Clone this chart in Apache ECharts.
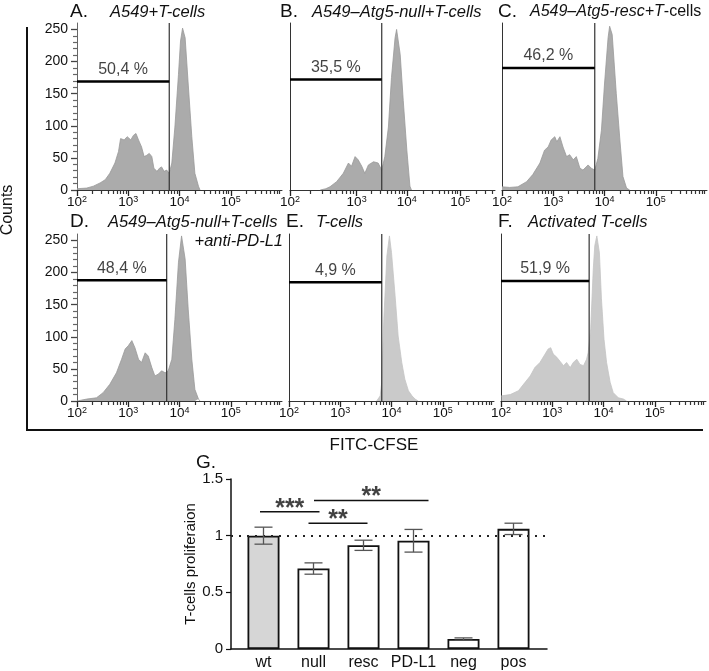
<!DOCTYPE html>
<html><head><meta charset="utf-8">
<script src="https://cdn.jsdelivr.net/npm/echarts@6/dist/echarts.min.js"></script>
<style>html,body{margin:0;padding:0;background:#fff}#c{width:709px;height:671px}</style>
</head><body><div id="c"></div>
<script>
// ---------- DATA ----------
// Histograms: [display position in decades from the 10^2 axis origin, counts]
const histA = [[0,2],[0.01,3],[0.19,3],[0.32,6],[0.45,11],[0.55,16],[0.64,26],[0.74,42],[0.81,60],[0.85,80],[0.92,78],[0.98,83],[1.05,78],[1.10,85],[1.15,88],[1.20,78],[1.26,67],[1.31,52],[1.36,54],[1.41,57],[1.46,52],[1.50,34],[1.56,29],[1.61,34],[1.65,36],[1.70,29],[1.75,31],[1.80,26],[1.85,42],[1.91,98],[1.98,180],[2.02,232],[2.06,252],[2.11,237],[2.17,165],[2.24,83],[2.30,26],[2.37,6],[2.40,0]];
const histB = [[0.59,0],[0.70,2],[0.78,5],[0.91,13],[1.04,26],[1.14,42],[1.20,37],[1.27,52],[1.33,47],[1.40,37],[1.46,26],[1.53,39],[1.63,44],[1.72,42],[1.79,31],[1.85,52],[1.92,98],[1.98,175],[2.05,237],[2.08,250],[2.15,211],[2.21,139],[2.28,62],[2.34,6],[2.37,0]];
const histC = [[0,5],[0.15,4],[0.31,5],[0.48,13],[0.60,24],[0.74,42],[0.83,62],[0.90,67],[0.96,78],[1.03,83],[1.07,75],[1.13,83],[1.19,67],[1.26,52],[1.32,55],[1.39,47],[1.45,52],[1.52,34],[1.58,31],[1.68,39],[1.74,34],[1.81,31],[1.87,49],[1.94,93],[2.00,165],[2.07,237],[2.10,255],[2.15,242],[2.23,150],[2.30,78],[2.36,21],[2.43,3],[2.49,0]];
const histD = [[0,0],[0.19,3],[0.38,5],[0.51,13],[0.64,26],[0.77,44],[0.87,65],[0.94,81],[1.00,86],[1.07,94],[1.13,83],[1.20,65],[1.26,60],[1.33,75],[1.39,70],[1.46,52],[1.52,39],[1.59,42],[1.65,47],[1.72,44],[1.78,47],[1.85,65],[1.91,127],[1.98,216],[2.04,257],[2.11,221],[2.17,143],[2.24,65],[2.30,18],[2.37,3],[2.40,0]];
const histE = [[1.71,0],[1.78,8],[1.81,29],[1.85,127],[1.91,226],[1.96,257],[2.00,231],[2.07,164],[2.13,101],[2.20,60],[2.26,34],[2.33,16],[2.40,8],[2.46,3],[2.52,0]];
const histF = [[0.01,8],[0.18,10],[0.34,16],[0.47,29],[0.57,39],[0.66,52],[0.76,60],[0.86,73],[0.92,81],[0.97,83],[1.02,73],[1.09,68],[1.15,62],[1.22,55],[1.28,60],[1.35,52],[1.41,60],[1.48,65],[1.54,57],[1.61,55],[1.67,65],[1.70,75],[1.75,112],[1.80,205],[1.83,242],[1.87,257],[1.92,231],[1.96,159],[2.01,96],[2.06,60],[2.13,29],[2.19,13],[2.29,5],[2.39,3],[2.45,0]];

// Gates: position of the marker, level of the horizontal bar, percentage text
const gateX = [1.80, 1.79, 1.81, 1.75, 1.81, 1.72];
const gateLevel = [169, 172, 190, 188, 185, 187];
const gateText = ['50,4 %', '35,5 %', '46,2 %', '48,4 %', '4,9 %', '51,9 %'];

// Axis tick labels
const decadeExp = [2, 3, 4, 5];
const decadePosStd = [0, 1, 2, 3];
const decadePosB = [0, 1.30, 2.28, 3.32];
const countTicks = [0, 50, 100, 150, 200, 250];

// Panel G
const groupNames = ['wt', 'null', 'resc', 'PD-L1', 'neg', 'pos'];
const groupMeans = [1.00, 0.71, 0.915, 0.955, 0.088, 1.06];
const groupErr = [0.075, 0.05, 0.045, 0.10, 0.01, 0.05];
const sigX1 = [-0.07, 0.90, 1.01];
const sigX2 = [1.12, 2.08, 3.30];
const sigY = [1.21, 1.11, 1.31];
const sigStars = ['***', '**', '**'];
const gTicks = [0, 0.5, 1, 1.5];

// ---------- LAYOUT / STYLE ----------
const FONT = "'Liberation Sans', Arial, Helvetica, sans-serif";
const X_MAX = 4, Y_MAX = 260;
const gridLeft = [77, 290, 502, 77, 289, 501];
const gridTop = [23, 23, 23, 234, 234, 234];
const GW = 205, GH = 167;
const fills = ['#ababab','#ababab','#ababab','#ababab','#cacaca','#cacaca'];
const edges = ['#999999','#999999','#999999','#999999','#c4c4c4','#c4c4c4'];
const hists = [histA, histB, histC, histD, histE, histF];

function minorTicks(majors) {
  const e = majors.slice();
  e.push(majors[majors.length - 1] + (majors[majors.length - 1] - majors[majors.length - 2]));
  const out = [];
  for (let i = 0; i < e.length - 1; i++) {
    for (let k = 2; k <= 9; k++) {
      const v = e[i] + (e[i + 1] - e[i]) * Math.log10(k);
      if (v <= X_MAX + 1e-9) out.push(+v.toFixed(4));
    }
  }
  return out;
}
const minorCounts = [];
for (let v = 10; v <= 250; v += 10) if (v % 50 !== 0) minorCounts.push(v);

const grids = [], xAxes = [], yAxes = [], series = [];
// grids 0..5 histograms, 6 = bar chart, 7..12 overlay grids for minor ticks
for (let i = 0; i < 6; i++) grids.push({left: gridLeft[i], top: gridTop[i], width: GW, height: GH, outerBoundsMode: 'none'});
grids.push({left: 231, top: 479, width: 316, height: 170, outerBoundsMode: 'none'});
for (let i = 0; i < 6; i++) grids.push({left: gridLeft[i], top: gridTop[i], width: GW, height: GH, outerBoundsMode: 'none'});

// x axes for histograms (0..5)
for (let i = 0; i < 6; i++) {
  const majors = i === 1 ? decadePosB : decadePosStd;
  xAxes.push({
    type: 'value', gridIndex: i, min: 0, max: X_MAX, position: 'bottom',
    splitLine: {show: false},
    axisLine: {show: true, onZero: false, lineStyle: {color: '#333', width: 1}},
    axisTick: {show: true, customValues: majors, length: 6, lineStyle: {color: '#222', width: 1.3}},
    axisLabel: {
      show: true, customValues: majors, margin: 5,
      formatter: function (v) {
        let idx = 0, best = 1e9;
        majors.forEach((m, j) => { if (Math.abs(m - v) < best) { best = Math.abs(m - v); idx = j; } });
        return '{b|10}{s|' + decadeExp[idx] + '}';
      },
      rich: {
        b: {fontSize: 13.5, fontFamily: FONT, color: '#111', lineHeight: 15},
        s: {fontSize: 9, fontFamily: FONT, color: '#111', verticalAlign: 'top', lineHeight: 9}
      }
    }
  });
}
// G x axis (6)
xAxes.push({
  type: 'value', gridIndex: 6, min: -0.65, max: 5.67, position: 'bottom',
  splitLine: {show: false},
  axisLine: {show: true, onZero: false, lineStyle: {color: '#111', width: 1.5}},
  axisTick: {show: false},
  axisLabel: {show: true, customValues: [0, 1, 2, 3, 4, 5], margin: 6,
    formatter: v => groupNames[Math.round(v)] || '', fontSize: 16, fontFamily: FONT, color: '#111'}
});
// overlay minor-tick x axes (7..12)
for (let i = 0; i < 6; i++) {
  const majors = i === 1 ? decadePosB : decadePosStd;
  xAxes.push({
    type: 'value', gridIndex: 7 + i, min: 0, max: X_MAX, position: 'bottom',
    splitLine: {show: false},
    axisLine: {show: true, onZero: false, lineStyle: {color: 'rgba(0,0,0,0)'}},
    axisTick: {show: true, customValues: minorTicks(majors), length: 4, lineStyle: {color: '#333', width: 1.2}},
    axisLabel: {show: false}
  });
}

// y axes for histograms (0..5)
for (let i = 0; i < 6; i++) {
  const labelled = (i === 0 || i === 3);
  yAxes.push({
    type: 'value', gridIndex: i, min: 0, max: Y_MAX, position: 'left',
    splitLine: {show: false},
    axisLine: {show: true, onZero: false, lineStyle: {color: labelled ? '#666' : '#333', width: 1}},
    axisTick: {show: labelled, customValues: countTicks, length: 6, lineStyle: {color: '#444', width: 1.3}},
    axisLabel: {show: labelled, customValues: countTicks, margin: 9, fontSize: 14, fontFamily: FONT, color: '#111'}
  });
}
// G y axis (6)
yAxes.push({
  type: 'value', gridIndex: 6, min: 0, max: 1.5, position: 'left',
  splitLine: {show: false},
  axisLine: {show: true, onZero: false, lineStyle: {color: '#111', width: 1.5}},
  axisTick: {show: true, customValues: gTicks, length: 5, lineStyle: {color: '#111', width: 1.2}},
  axisLabel: {show: true, customValues: gTicks, margin: 8, fontSize: 15, fontFamily: FONT, color: '#111'},
  name: 'T-cells proliferaion', nameLocation: 'middle', nameGap: 30,
  nameTextStyle: {fontSize: 15, fontFamily: FONT, color: '#111'}
});
// overlay minor-tick y axes (7..12)
for (let i = 0; i < 6; i++) {
  const labelled = (i === 0 || i === 3);
  yAxes.push({
    type: 'value', gridIndex: 7 + i, min: 0, max: Y_MAX, position: 'left',
    splitLine: {show: false},
    axisLine: {show: true, onZero: false, lineStyle: {color: 'rgba(0,0,0,0)'}},
    axisTick: {show: labelled, customValues: minorCounts, length: 4, lineStyle: {color: '#666', width: 1.2}},
    axisLabel: {show: false}
  });
}

// histogram series
for (let i = 0; i < 6; i++) {
  series.push({type: 'line', xAxisIndex: i, yAxisIndex: i, data: hists[i], symbol: 'none', smooth: false,
    lineStyle: {color: edges[i], width: 0.8}, areaStyle: {color: fills[i], opacity: 1}, silent: true, z: 2});
  series.push({type: 'line', xAxisIndex: i, yAxisIndex: i, data: [[gateX[i], 0], [gateX[i], Y_MAX]], symbol: 'none',
    lineStyle: {color: '#333', width: 1.2}, silent: true, z: 3});
  series.push({type: 'line', xAxisIndex: i, yAxisIndex: i, data: [[0, gateLevel[i]], [gateX[i], gateLevel[i]]], symbol: 'none',
    lineStyle: {color: '#000', width: 2.5}, silent: true, z: 4});
  series.push({type: 'scatter', xAxisIndex: i, yAxisIndex: i, data: [[gateX[i] / 2, gateLevel[i]]], symbolSize: 0,
    label: {show: true, position: 'top', distance: 4, formatter: gateText[i], fontSize: 16, fontFamily: FONT, color: '#111'},
    silent: true, z: 5});
}

// Panel G series
series.push({
  type: 'bar', xAxisIndex: 6, yAxisIndex: 6, barWidth: 32,
  data: groupMeans.map((v, i) => ({value: [i, v], itemStyle: {color: i === 0 ? '#d6d6d6' : '#ffffff'}})),
  itemStyle: {borderColor: '#111', borderWidth: 1.8},
  markLine: {silent: true, symbol: ['none', 'none'], label: {show: false},
    lineStyle: {color: '#222', type: [2, 6], width: 2.2}, data: [{yAxis: 1}]},
  silent: true, z: 2
});
series.push({
  type: 'custom', xAxisIndex: 6, yAxisIndex: 6,
  data: groupMeans.map((v, i) => [i, v - groupErr[i], v + groupErr[i]]),
  renderItem: function (params, api) {
    const lo = api.coord([api.value(0), api.value(1)]);
    const hi = api.coord([api.value(0), api.value(2)]);
    const w = 9;
    const shapes = [
      {x1: lo[0], y1: lo[1], x2: hi[0], y2: hi[1]},
      {x1: hi[0] - w, y1: hi[1], x2: hi[0] + w, y2: hi[1]},
      {x1: lo[0] - w, y1: lo[1], x2: lo[0] + w, y2: lo[1]}
    ];
    return {type: 'group', children: shapes.map(s => ({type: 'line', shape: s, style: {stroke: '#555', lineWidth: 1.3}}))};
  },
  silent: true, z: 5
});
for (let k = 0; k < sigStars.length; k++) {
  series.push({type: 'line', xAxisIndex: 6, yAxisIndex: 6, data: [[sigX1[k], sigY[k]], [sigX2[k], sigY[k]]],
    symbol: 'none', lineStyle: {color: '#111', width: 1.5}, silent: true, z: 6});
  series.push({type: 'scatter', xAxisIndex: 6, yAxisIndex: 6, data: [[(sigX1[k] + sigX2[k]) / 2, sigY[k]]], symbolSize: 0,
    label: {show: true, position: 'inside', offset: [0, -3], formatter: sigStars[k], fontSize: 25, fontWeight: 'bold', fontFamily: FONT, color: '#111'},
    silent: true, z: 7});
}

// ---------- TEXT DECORATION ----------
function txt(x, y, text, opts) {
  return Object.assign({type: 'text', x: x, y: y, silent: true,
    style: Object.assign({text: text, fontFamily: FONT, fill: '#111', verticalAlign: 'middle', align: 'left'}, opts || {})});
}
const TS = 16.5;
const graphic = [
  txt(70, 12, 'A.', {fontSize: 19}),
  txt(110, 12, 'A549+T-cells', {fontSize: TS, fontStyle: 'italic'}),
  txt(280, 12, 'B.', {fontSize: 19}),
  txt(312, 12, 'A549–Atg5-null+T-cells', {fontSize: TS, fontStyle: 'italic'}),
  txt(498, 12, 'C.', {fontSize: 19}),
  txt(530, 12, '{i|A549–Atg5-resc+T}{n|-cells}', {rich: {
    i: {fontSize: 16, fontStyle: 'italic', fontFamily: FONT, fill: '#111'},
    n: {fontSize: 16, fontFamily: FONT, fill: '#111'}}}),
  txt(70, 222, 'D.', {fontSize: 19}),
  txt(108, 222, 'A549–Atg5-null+T-cells', {fontSize: TS, fontStyle: 'italic'}),
  txt(283, 241, '+anti-PD-L1', {fontSize: TS, fontStyle: 'italic', align: 'right'}),
  txt(286, 222, 'E.', {fontSize: 19}),
  txt(316, 222, 'T-cells', {fontSize: TS, fontStyle: 'italic'}),
  txt(498, 222, 'F.', {fontSize: 19}),
  txt(528, 222, 'Activated T-cells', {fontSize: TS, fontStyle: 'italic'}),
  Object.assign(txt(8, 210, 'Counts', {fontSize: 16, align: 'center'}), {rotation: Math.PI / 2}),
  txt(374, 445, 'FITC-CFSE', {fontSize: 17, align: 'center'}),
  txt(196, 463, 'G.', {fontSize: 19}),
  {type: 'line', silent: true, shape: {x1: 27, y1: 27, x2: 27, y2: 430}, style: {stroke: '#111', lineWidth: 2}},
  {type: 'line', silent: true, shape: {x1: 26, y1: 430, x2: 703, y2: 430}, style: {stroke: '#111', lineWidth: 2}}
];

const chart = echarts.init(document.getElementById('c'), null, {renderer: 'canvas'});
chart.setOption({
  animation: false,
  backgroundColor: '#fff',
  textStyle: {fontFamily: FONT},
  grid: grids, xAxis: xAxes, yAxis: yAxes, series: series, graphic: graphic
});
</script>
</body></html>
